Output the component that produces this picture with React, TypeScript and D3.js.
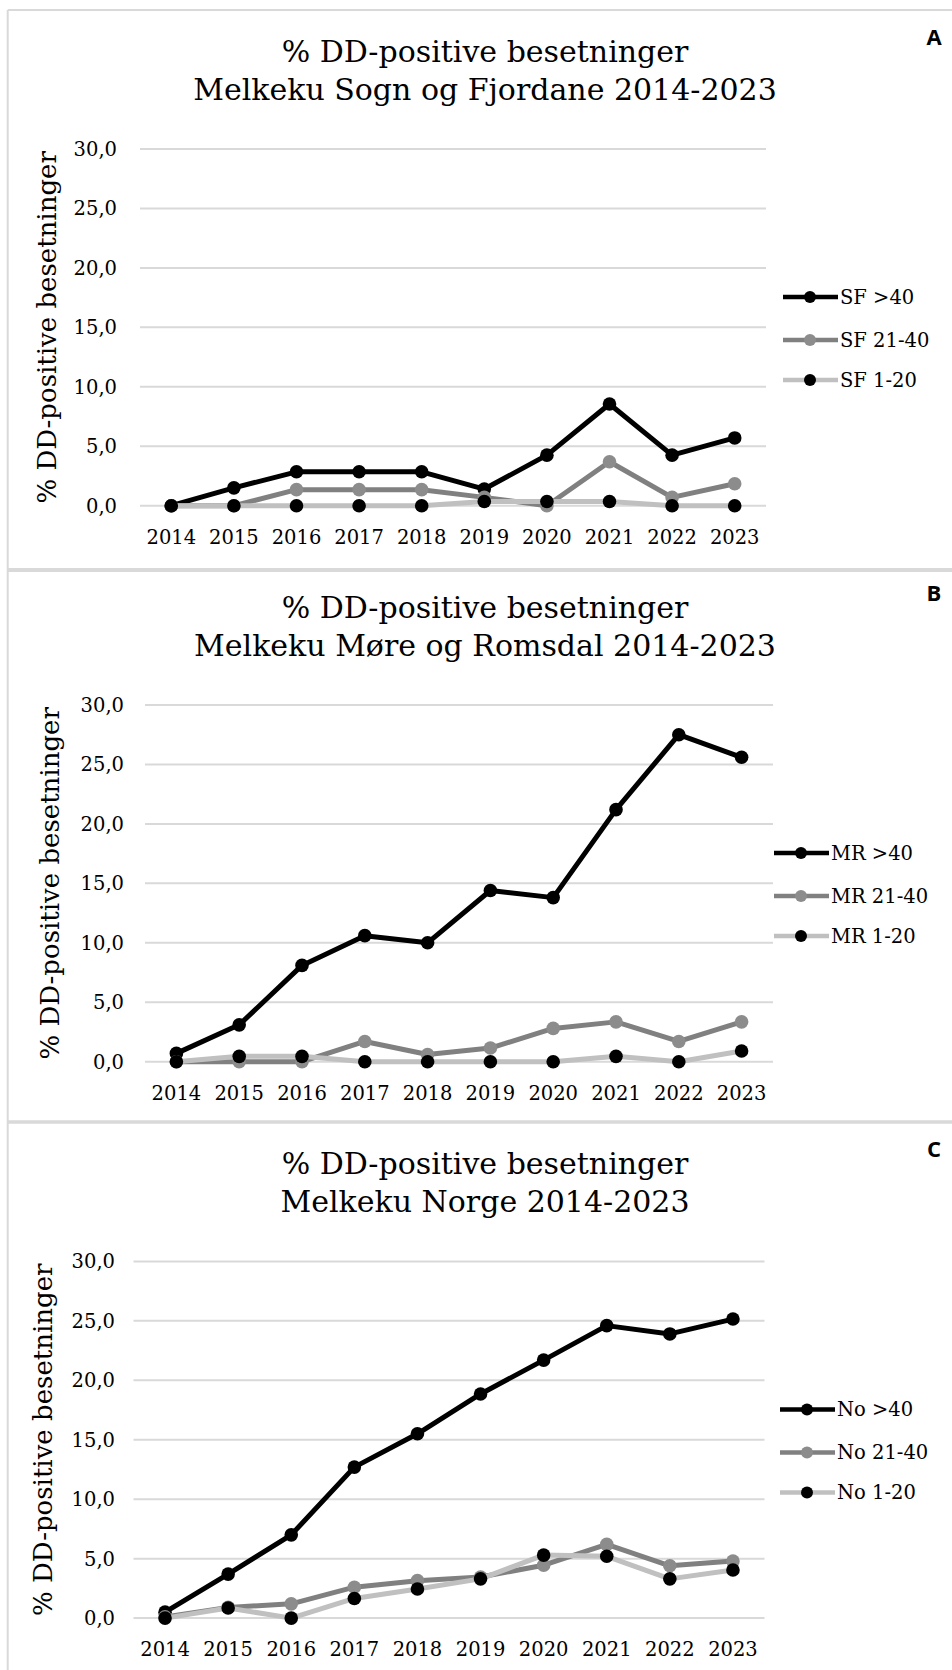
import React from "react";
import * as d3 from "d3";

const years = ["2014", "2015", "2016", "2017", "2018", "2019", "2020", "2021", "2022", "2023"];
const yTicks = [0, 5, 10, 15, 20, 25, 30];

// Panel A – Sogn og Fjordane
const sfOver40 = [0, 1.5, 2.85, 2.85, 2.85, 1.4, 4.25, 8.55, 4.25, 5.7];
const sf21to40 = [0, 0, 1.35, 1.35, 1.35, 0.7, 0, 3.7, 0.7, 1.85];
const sf1to20 = [0, 0, 0, 0, 0, 0.35, 0.35, 0.35, 0, 0];
const sfNames = ["SF >40", "SF 21-40", "SF 1-20"];

// Panel B – Møre og Romsdal
const mrOver40 = [0.7, 3.1, 8.1, 10.6, 10.0, 14.4, 13.8, 21.2, 27.5, 25.6];
const mr21to40 = [0, 0, 0, 1.7, 0.6, 1.15, 2.8, 3.35, 1.7, 3.35];
const mr1to20 = [0, 0.45, 0.45, 0, 0, 0, 0, 0.45, 0, 0.9];
const mrNames = ["MR >40", "MR 21-40", "MR 1-20"];

// Panel C – Norge
const noOver40 = [0.5, 3.7, 7.0, 12.7, 15.5, 18.85, 21.7, 24.6, 23.9, 25.15];
const no21to40 = [0.1, 0.9, 1.2, 2.6, 3.15, 3.45, 4.45, 6.2, 4.4, 4.8];
const no1to20 = [0, 0.85, 0, 1.65, 2.45, 3.3, 5.3, 5.2, 3.3, 4.05];
const noNames = ["No >40", "No 21-40", "No 1-20"];

const titleLine1 = "% DD-positive besetninger";
const subtitles = [
  "Melkeku Sogn og Fjordane 2014-2023",
  "Melkeku Møre og Romsdal 2014-2023",
  "Melkeku Norge 2014-2023",
];
const letters = ["A", "B", "C"];
const yAxisTitle = "% DD-positive besetninger";

const seriesStyles = [
  { line: "#000000", marker: "#000000" },
  { line: "#808080", marker: "#8c8c8c" },
  { line: "#c0c0c0", marker: "#000000" },
];

const SERIF = "'DejaVu Serif', 'Liberation Serif', serif";
const SANS = "'Open Sans', 'Liberation Sans', sans-serif";

type PanelLayout = {
  off: number;
  left: number;
  right: number;
  tickRight: number;
  yTitleX: number;
  legendX: number;
};

const layouts: PanelLayout[] = [
  { off: 0, left: 140, right: 766, tickRight: 117, yTitleX: 56, legendX: 783 },
  { off: 556, left: 145, right: 773, tickRight: 124, yTitleX: 59, legendX: 774 },
  { off: 1112.4, left: 133.5, right: 764.5, tickRight: 115, yTitleX: 52, legendX: 780 },
];

const panelData = [
  { series: [sfOver40, sf21to40, sf1to20], names: sfNames },
  { series: [mrOver40, mr21to40, mr1to20], names: mrNames },
  { series: [noOver40, no21to40, no1to20], names: noNames },
];

function Panel({ idx }: { idx: number }) {
  const L = layouts[idx];
  const { series, names } = panelData[idx];
  const y0 = 505.7 + L.off;
  const y30 = 149 + L.off;
  const x = d3.scalePoint<string>().domain(years).range([L.left, L.right]).padding(0.5);
  const y = d3.scaleLinear().domain([0, 30]).range([y0, y30]);
  const fmt = (v: number) => d3.format(".1f")(v).replace(".", ",");
  const legendYs = [297, 340, 380].map((v) => v + L.off);
  const plotMid = (y0 + y30) / 2;

  return (
    <g>
      <text x={485} y={62 + L.off} textAnchor="middle" fontFamily={SERIF} fontSize={30} fill="#000">
        {titleLine1}
      </text>
      <text x={485} y={100 + L.off} textAnchor="middle" fontFamily={SERIF} fontSize={30} fill="#000">
        {subtitles[idx]}
      </text>
      <text x={934} y={45 + L.off} textAnchor="middle" fontFamily={SANS} fontWeight={700} fontSize={22} fill="#000">
        {letters[idx]}
      </text>

      {yTicks.map((t) => (
        <g key={t}>
          <line x1={L.left} x2={L.right} y1={y(t)} y2={y(t)} stroke="#d9d9d9" strokeWidth={2} />
          <text
            x={L.tickRight}
            y={y(t)}
            dy="0.36em"
            textAnchor="end"
            fontFamily={SERIF}
            fontSize={19.5}
            fill="#000"
          >
            {fmt(t)}
          </text>
        </g>
      ))}

      {years.map((yr) => (
        <text
          key={yr}
          x={x(yr)}
          y={537 + L.off}
          dy="0.36em"
          textAnchor="middle"
          fontFamily={SERIF}
          fontSize={19.5}
          fill="#000"
        >
          {yr}
        </text>
      ))}

      <text
        transform={`translate(${L.yTitleX},${plotMid}) rotate(-90)`}
        textAnchor="middle"
        fontFamily={SERIF}
        fontSize={26}
        fill="#000"
      >
        {yAxisTitle}
      </text>

      {series.map((vals, si) => {
        const line = d3
          .line<number>()
          .x((_, i) => x(years[i]) as number)
          .y((v) => y(v));
        return (
          <g key={si}>
            <path
              d={line(vals) || ""}
              fill="none"
              stroke={seriesStyles[si].line}
              strokeWidth={5}
              strokeLinejoin="round"
              strokeLinecap="round"
            />
            {vals.map((v, i) => (
              <circle key={i} cx={x(years[i])} cy={y(v)} r={6.8} fill={seriesStyles[si].marker} />
            ))}
          </g>
        );
      })}

      {names.map((n, si) => (
        <g key={n}>
          <line
            x1={L.legendX}
            x2={L.legendX + 55}
            y1={legendYs[si]}
            y2={legendYs[si]}
            stroke={seriesStyles[si].line}
            strokeWidth={4.5}
          />
          <circle cx={L.legendX + 27} cy={legendYs[si]} r={6} fill={seriesStyles[si].marker} />
          <text
            x={L.legendX + 57}
            y={legendYs[si]}
            dy="0.36em"
            fontFamily={SERIF}
            fontSize={19.5}
            fill="#000"
          >
            {n}
          </text>
        </g>
      ))}
    </g>
  );
}

export default function App() {
  return (
    <svg
      width={952}
      height={1670}
      viewBox="0 0 952 1670"
      style={{ position: "absolute", left: 0, top: 0, background: "#fff" }}
    >
      <rect x={0} y={0} width={952} height={1670} fill="#fff" />
      <line x1={7.7} x2={7.7} y1={10} y2={1670} stroke="#d9d9d9" strokeWidth={2} />
      <line x1={7.7} x2={952} y1={10} y2={10} stroke="#d9d9d9" strokeWidth={2} />
      <line x1={7.7} x2={952} y1={570} y2={570} stroke="#d9d9d9" strokeWidth={4} />
      <line x1={7.7} x2={952} y1={1122} y2={1122} stroke="#d9d9d9" strokeWidth={3.5} />
      {[0, 1, 2].map((i) => (
        <Panel key={i} idx={i} />
      ))}
    </svg>
  );
}
